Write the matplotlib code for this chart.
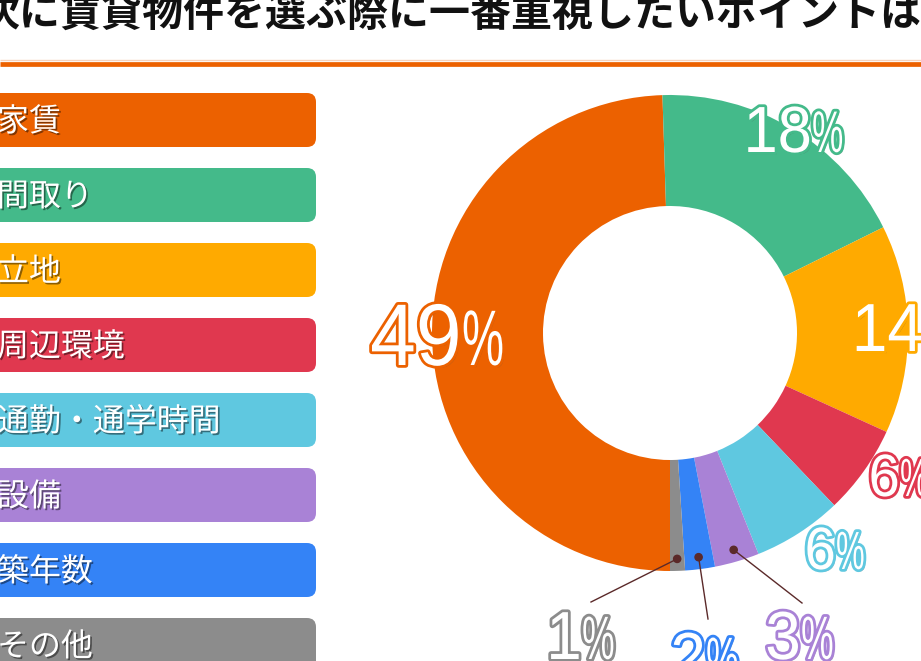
import numpy as np
import matplotlib
matplotlib.use('Agg')
import matplotlib.pyplot as plt
import matplotlib.patheffects as pe
from matplotlib.patches import FancyBboxPatch, Circle
from matplotlib.transforms import Affine2D

plt.rcParams['font.family'] = ['Noto Sans CJK JP', 'DejaVu Sans']

# ---------------- data ----------------
title = '次に賃貸物件を選ぶ際に一番重視したいポイントは？'
categories = ['家賃', '間取り', '立地', '周辺環境', '通勤・通学時間', '設備', '築年数', 'その他']
shares = [49, 18, 14, 6, 6, 3, 2, 1]
colors = ['#EC6100', '#44BA8A', '#FFAA00', '#E0384F', '#5FC8E0', '#A982D6', '#3483F6', '#8C8C8C']

W, H = 921, 661
fig = plt.figure(figsize=(W / 100, H / 100), dpi=100)
ax = fig.add_axes([0, 0, 1, 1])


def Y(y):  # image row -> data y
    return H - y


class Squeeze(pe.AbstractPathEffect):
    """squeeze glyphs horizontally (condensed look), then run other effects"""
    def __init__(self, sx, effects, anchor='left'):
        super().__init__()
        self.sx = sx
        self.effects = effects
        self.anchor = anchor

    def draw_path(self, renderer, gc, tpath, affine, rgbFace=None):
        x0 = 0 if self.anchor == 'left' else tpath.get_extents().x1
        t = Affine2D().translate(-x0, 0).scale(self.sx, 1).translate(x0, 0) + affine
        for e in self.effects:
            e.draw_path(renderer, gc, tpath, t, rgbFace)


# title + orange rule
ax.text(-21, Y(14), title, fontsize=29.5, fontweight='bold', color='#111111',
        ha='left', va='center')
ax.plot([0, W], [Y(60), Y(60)], color='#F6D2BC', lw=1.0, solid_capstyle='butt')
ax.plot([0, W], [Y(63.5), Y(63.5)], color='#EC6100', lw=3.4, solid_capstyle='butt')

# legend bars
shadow_txt = [pe.withSimplePatchShadow(offset=(1.2, -1.2), shadow_rgbFace='#000000', alpha=0.45)]
for i, (cat, col) in enumerate(zip(categories, colors)):
    top = 93 + 75 * i
    box = FancyBboxPatch((-30, Y(top + 54)), 346, 54,
                         boxstyle='round,pad=0,rounding_size=9',
                         facecolor=col, edgecolor='none')
    ax.add_patch(box)
    ax.text(-3, Y(top + 29), cat, fontsize=23, color='white', ha='left',
            va='center', path_effects=shadow_txt)

# donut
cx, cy, R, r = 670, Y(333), 238, 127
wedges, _ = ax.pie(shares, colors=colors, startangle=-90, counterclock=False,
                   center=(cx, cy), radius=R, frame=True,
                   wedgeprops=dict(width=R - r, linewidth=0))
ax.set_xlim(0, W)
ax.set_ylim(0, H)
ax.set_aspect('equal')
ax.axis('off')

# percent labels: (junction x, baseline row, digit fontsize)
label_pos = [(462, 365, 63), (812, 152, 47), (923, 351, 49), (900, 496, 43),
             (836, 569, 43), (801, 659, 49), (706, 680, 49), (582, 659, 49)]
num_font = ['Liberation Sans', 'DejaVu Sans']
for val, col, (jx, base, fs) in zip(shares, colors, label_pos):
    eff = [pe.SimplePatchShadow(offset=(1.5, -1.5), shadow_rgbFace='#555555', alpha=0.5),
           pe.Stroke(linewidth=4, foreground=col), pe.Normal()]
    ax.text(jx, Y(base), str(val), fontsize=fs, color='white', family=num_font,
            ha='right', va='baseline',
            path_effects=[Squeeze(0.94, eff, anchor='right')])
    ax.text(jx, Y(base), '%', fontsize=fs * 0.9, color='white', family=num_font,
            ha='left', va='baseline',
            path_effects=[Squeeze(0.6, eff, anchor='left')])

# leader lines for the small slices
theta = [np.deg2rad((w.theta1 + w.theta2) / 2) for w in wedges]
line_end = {5: (802, 603), 6: (708, 619), 7: (591, 602)}
for k, (ex, ey) in line_end.items():
    px = cx + 226 * np.cos(theta[k])
    py = cy + 226 * np.sin(theta[k])
    ax.plot([px, ex], [py, Y(ey)], color='#5B2A2A', lw=1.0)
    ax.add_patch(Circle((px, py), 3.6, color='#5B2A2A', zorder=5))

fig.savefig('out.png', dpi=100)
